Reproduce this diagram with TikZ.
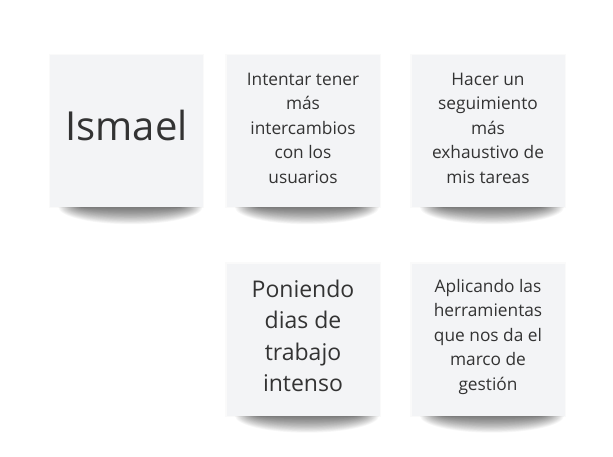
\documentclass[tikz,border=0pt]{standalone}
\usepackage{fontspec}
\setmainfont{Open Sans}
\usetikzlibrary{backgrounds}
\definecolor{notefill}{HTML}{F3F4F6}
\definecolor{notetext}{HTML}{333333}
\begin{document}
\begin{tikzpicture}
    [
        x = 1pt, y = -1pt,
        note/.style = {fill = notefill, minimum width = 153pt, minimum height = 152pt, inner sep = 0pt},
        note text/.style = {align = center, text = notetext, inner sep = 0pt},
        shadow part/.style = {fill = black, opacity = 0.032},
        halo/.style = {fill = black, opacity = 0.018},
        small text/.style = {font = \fontsize{17.3}{24.5}\selectfont},
        big text/.style = {font = \fontsize{23}{31.5}\selectfont}
    ]

        \useasboundingbox (0,0) rectangle (613,456);

        \node[note] (Ismael) at (126.5,131) {};
        \node[note] (Intercambios) at (303,131) {};
        \node[note] (Seguimiento) at (488,131) {};
        \node[note] (Poniendo) at (303,339.5) {};
        \node[note] (Aplicando) at (488,339.5) {};

        \node[note text, font = \fontsize{40}{48}\selectfont] (Ismael text) at ([yshift = 6pt]Ismael.center) {Ismael};
        \node[note text, small text] (Intercambios text) at ([yshift = 3pt]Intercambios.center)
            {Intentar tener\\más\\intercambios\\con los\\usuarios};
        \node[note text, small text] (Seguimiento text) at ([yshift = 3pt]Seguimiento.center)
            {Hacer un\\seguimiento\\más\\exhaustivo de\\mis tareas};
        \node[note text, big text] (Poniendo text) at ([yshift = 3.5pt]Poniendo.center)
            {Poniendo\\dias de\\trabajo\\intenso};
        \node[note text, small text] (Aplicando text) at ([yshift = 3pt]Aplicando.center)
            {Aplicando las\\herramientas\\que nos da el\\marco de\\gestión};

        % curled shadows under the notes
        \begin{pgfonlayer}{background}
            \fill[white] (0,0) rectangle (613,456);
            \foreach \n in {Ismael, Intercambios, Seguimiento, Poniendo, Aplicando}
            {
                \fill[halo] ([shift = {(-1pt,1pt)}]\n.north west) rectangle ([shift = {(1pt,-1pt)}]\n.south east);
                \foreach \i in {0,...,19}
                    \fill[shadow part] ([xshift = 4pt]\n.south) ellipse [x radius = 72 - 1.2*\i, y radius = 17 - 0.8*\i];
            }
        \end{pgfonlayer}
    \end{tikzpicture}
\end{document}
